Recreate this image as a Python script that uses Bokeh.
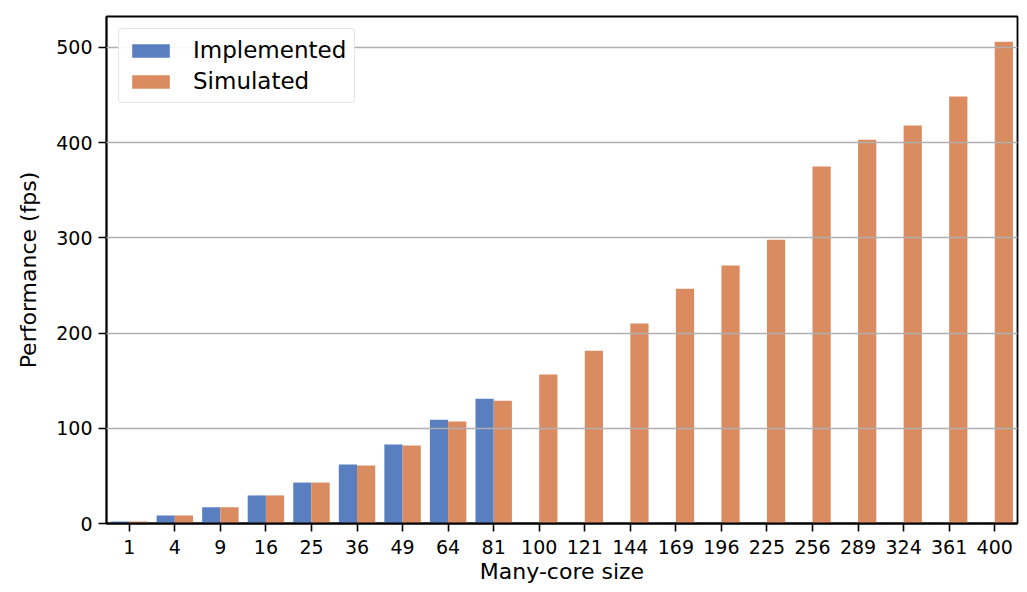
from bokeh.plotting import figure
from bokeh.models import ColumnDataSource, FactorRange, Range1d, Legend, LegendItem, SingleIntervalTicker
from bokeh.transform import dodge
from bokeh.embed import file_html
from bokeh.resources import INLINE

sizes = ["1", "4", "9", "16", "25", "36", "49", "64", "81", "100", "121", "144",
         "169", "196", "225", "256", "289", "324", "361", "400"]
implemented_sizes = ["1", "4", "9", "16", "25", "36", "49", "64", "81"]
implemented = [2, 8.5, 17, 29.5, 43, 62, 83, 109, 131]
simulated = [2, 8.5, 17, 29.5, 43, 61, 82, 107, 129, 156.5, 181.5, 210, 246.5,
             271, 298, 375, 403, 418, 448.5, 506]

BLUE = "#5a7fc1"
ORANGE = "#da8b60"
FONT = "DejaVu Sans"

src_i = ColumnDataSource(dict(x=implemented_sizes, y=implemented))
src_s = ColumnDataSource(dict(x=sizes, y=simulated))

p = figure(width=1027, height=592, x_range=FactorRange(*sizes),
           y_range=Range1d(0, 532.5), output_backend="svg", toolbar_location=None,
           min_border_left=106, min_border_right=10, min_border_top=16, min_border_bottom=69)
p.x_range.range_padding = 0
p.x_range.factor_padding = 0

r_i = p.vbar(x=dodge("x", -0.2, range=p.x_range), top="y", width=0.4, source=src_i,
             fill_color=BLUE, line_color=None)
r_s = p.vbar(x=dodge("x", 0.2, range=p.x_range), top="y", width=0.4, source=src_s,
             fill_color=ORANGE, line_color=None)

p.outline_line_color = "black"
p.outline_line_width = 1.8
p.outline_line_alpha = 1

p.xgrid.visible = False
p.ygrid.grid_line_color = "#b0b0b0"
p.ygrid.grid_line_width = 1.5
p.ygrid.level = "guide"
p.yaxis.ticker = SingleIntervalTicker(interval=100)

for ax in (p.xaxis[0], p.yaxis[0]):
    ax.axis_line_color = "black"
    ax.axis_line_width = 1.8
    ax.major_tick_line_color = "black"
    ax.major_tick_line_width = 1.6
    ax.major_tick_out = 8
    ax.major_tick_in = 0
    ax.minor_tick_line_color = None
    ax.major_label_text_font = FONT
    ax.major_label_text_font_size = "19px"
    ax.major_label_text_color = "black"
    ax.axis_label_text_font = FONT
    ax.axis_label_text_font_size = "22px"
    ax.axis_label_text_font_style = "normal"
    ax.axis_label_text_color = "black"
    ax.major_label_standoff = 6

p.xaxis.major_label_standoff = 8
p.xaxis.axis_label = "Many-core size"
p.yaxis.axis_label = "Performance (fps)"
p.xaxis.axis_label_standoff = 2
p.yaxis.axis_label_standoff = 12

legend = Legend(items=[LegendItem(label="Implemented", renderers=[r_i]),
                       LegendItem(label="Simulated", renderers=[r_s])],
                location="top_left", margin=12, padding=8, spacing=5,
                glyph_width=47, glyph_height=17, label_standoff=19,
                label_text_font=FONT, label_text_font_size="23px",
                label_text_color="black",
                border_line_color="#cccccc", border_line_width=1.5,
                background_fill_alpha=0.9)
try:
    legend.border_radius = 4
except Exception:
    pass
p.add_layout(legend)

open("out.html", "w").write(file_html(p, INLINE))
